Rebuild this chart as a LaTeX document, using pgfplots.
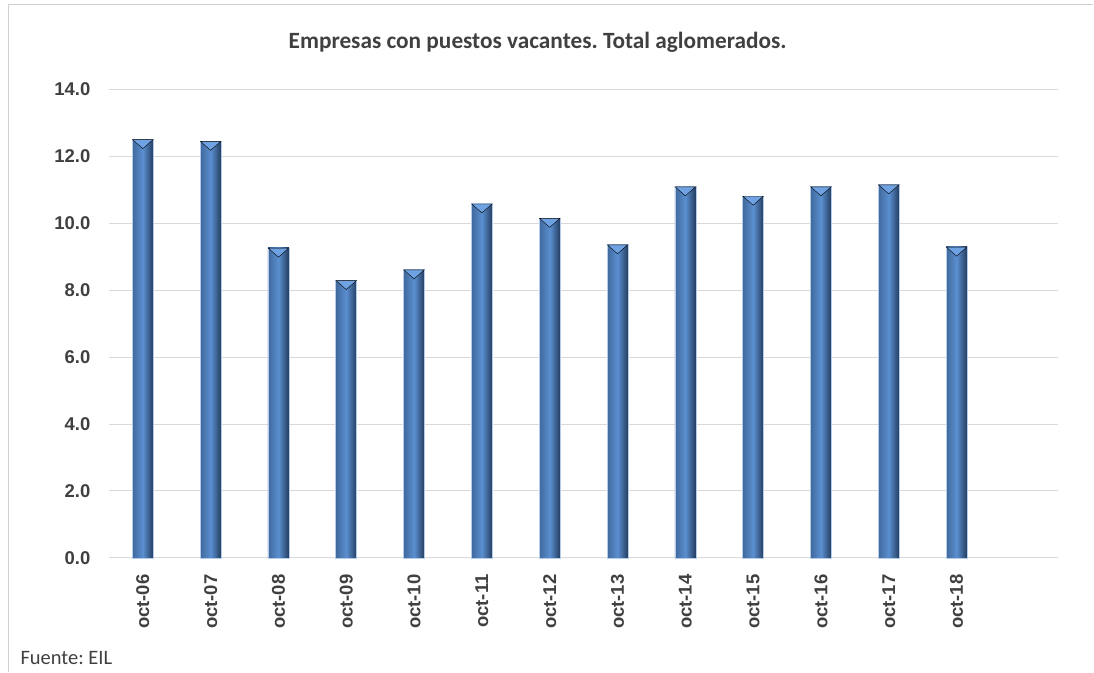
\documentclass[border=0pt]{standalone}
\usepackage{pgfplots}
\usepackage{pgfplotstable}
\pgfplotsset{compat=1.18}
\usepackage{fontspec}
\setmainfont{Carlito}
\newfontfamily\lib{Liberation Sans}
\definecolor{tickgray}{HTML}{404040}
\definecolor{gridgray}{HTML}{D9D9D9}
\definecolor{frame}{HTML}{D0D0D0}
\definecolor{barL}{HTML}{40699C}
\definecolor{barM}{HTML}{5B8FD0}
\definecolor{barR}{HTML}{233C5E}
\definecolor{barTop}{HTML}{6FA2E2}
\pgfplotstableread{
x y
0 12.50
1 12.45
2 9.26
3 8.29
4 8.61
5 10.58
6 10.15
7 9.36
8 11.09
9 10.81
10 11.09
11 11.15
12 9.29
}\data
\begin{document}
\frenchspacing
\begin{tikzpicture}[x=1pt,y=1pt]
\path (0,0) rectangle (1094,672);
\draw[frame, line width=1.5pt] (8.5,0) -- (8.5,667.5) -- (1094,667.5);
\node[text=tickgray, font=\bfseries\fontsize{23.3}{26}\selectfont] at (538,630) {Empresas con puestos vacantes. Total aglomerados.};
\node[text=tickgray, font=\fontsize{20.5}{23}\selectfont, anchor=west] at (17,14) {Fuente: EIL};
\begin{axis}[
  at={(109pt,113.7pt)}, anchor=south west,
  scale only axis, width=950pt, height=469pt,
  xmin=-0.5, xmax=13.5, ymin=0, ymax=14,
  axis line style={draw=none},
  ytick={0,2,...,14},
  xtick={0,...,12},
  xticklabels={oct-06,oct-07,oct-08,oct-09,oct-10,oct-11,oct-12,oct-13,oct-14,oct-15,oct-16,oct-17,oct-18},
  major tick length=0pt,
  ymajorgrids, grid style={gridgray, line width=1pt},
  /pgf/number format/assume math mode=true,
  yticklabel={\pgfmathprintnumber[fixed,fixed zerofill,precision=1]{\tick}},
  yticklabel style={font=\lib\bfseries\fontsize{18.5}{20}\selectfont, text=tickgray, anchor=east, xshift=-15pt},
  xticklabel style={font=\lib\bfseries\fontsize{18.5}{20}\selectfont, text=tickgray, rotate=90, anchor=east, xshift=-13pt},
  clip=false,
]
\pgfplotsinvokeforeach{0,...,12}{
\addplot[ybar, bar width=21pt, bar shift=0pt, draw=barM!45!white, line width=0.6pt,
  left color=barL, right color=barR, middle color=barM,
  restrict expr to domain={\coordindex}{#1:#1}] table[x=x,y=y] {\data};
}
\addplot[only marks, mark=triangle*, mark size=5pt,
  mark options={draw=none, fill=barTop, rotate=180, xscale=2.35, yscale=1.2, yshift=2.7pt}]
  table[x=x,y=y] {\data};
\end{axis}
\end{tikzpicture}
\end{document}
